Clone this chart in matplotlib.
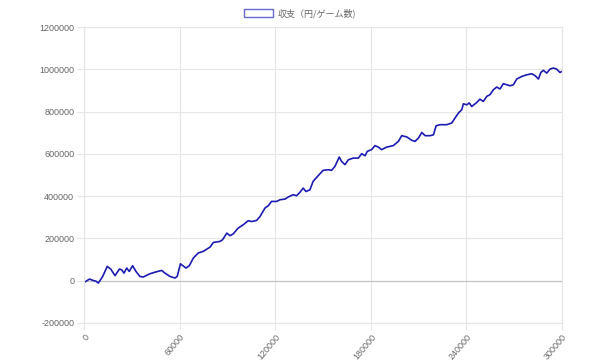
import matplotlib
matplotlib.use("Agg")
import matplotlib.pyplot as plt
from matplotlib.patches import Patch

plt.rcParams['font.family'] = ['Liberation Sans', 'Noto Sans CJK JP', 'DejaVu Sans']

# games played vs. cumulative balance (yen)
games = [0, 1200, 3500, 5600, 7500, 9000, 11700, 14600, 16800, 18400, 19500,
         22200, 23600, 25100, 26800, 28400, 30500, 32600, 35100, 37200, 41400,
         45600, 48700, 50800, 54000, 57100, 58500, 60500, 64000, 66100, 68600,
         71700, 74900, 79100, 81200, 85400, 87000, 89600, 91700, 93700, 96800,
         100000, 103100, 105200, 108300, 110500, 113600, 115700, 117700, 120900,
         123000, 126100, 128200, 131300, 133400, 135500, 137600, 139300, 141800,
         143800, 147000, 150100, 153300, 155400, 157500, 160200, 161700, 163800,
         165900, 169000, 172200, 174300, 176400, 177800, 180500, 182600, 184700,
         186800, 190000, 194100, 197300, 199400, 202600, 205700, 207800, 209900,
         212000, 214100, 217200, 219300, 221000, 223500, 227700, 230800, 232900,
         235000, 237100, 238100, 240200, 241800, 243300, 246500, 248500, 250600,
         252800, 254800, 256900, 259000, 261100, 263200, 265300, 267400, 269500,
         271600, 274700, 277900, 281000, 283100, 285200, 286700, 288300, 290400,
         292500, 294600, 296600, 298700, 300000]
balance = [-8000, -3000, 8000, 1500, -2000, -11000, 20000, 68000, 55000, 36000,
           24000, 55000, 52000, 36000, 60000, 44000, 71000, 44000, 20000, 17500,
           33000, 42500, 48700, 36000, 20000, 12700, 20000, 80000, 60000, 71000,
           107000, 131000, 139000, 159000, 181000, 186000, 194000, 225000, 213000,
           222000, 249000, 265000, 284000, 280000, 285000, 304000, 344000, 355000,
           375000, 375000, 383000, 386000, 396000, 407000, 402000, 418000, 438000,
           422000, 430000, 470000, 497000, 522000, 525000, 522000, 541000, 585000,
           564000, 549000, 572000, 580000, 580000, 601000, 591000, 612000, 620000,
           639000, 632000, 620000, 632000, 639000, 659000, 686000, 680000, 664000,
           659000, 675000, 701000, 686000, 686000, 690000, 733000, 738000, 738000,
           746000, 770000, 793000, 809000, 837000, 832000, 841000, 824000, 843000,
           859000, 848000, 872000, 880000, 903000, 916000, 907000, 932000, 927000,
           922000, 927000, 954000, 966000, 974000, 979000, 970000, 954000, 985000,
           995000, 982000, 1001000, 1006000, 1001000, 985000, 990000]

x_ticks = [0, 60000, 120000, 180000, 240000, 300000]
y_ticks = [-200000, 0, 200000, 400000, 600000, 800000, 1000000, 1200000]
label = "収支（円/ゲーム数)"

line_color = "#1c1cb2"
grid_color = "#e5e5e5"
text_color = "#666666"

fig = plt.figure(figsize=(6, 3.63), dpi=100)
ax = fig.add_axes([0.14, 0.1102, 0.7967, 0.8154])

ax.plot(games, balance, color=line_color, linewidth=1.2)

ax.set_xlim(0, 300000)
ax.set_ylim(-200000, 1200000)
ax.set_xticks(x_ticks)
ax.set_yticks(y_ticks)
ax.set_xticklabels([str(v) for v in x_ticks], rotation=50, ha="right",
                   va="top", rotation_mode="anchor")
ax.set_yticklabels([str(v) for v in y_ticks])
ax.tick_params(axis="both", colors=grid_color, labelcolor=text_color,
               labelsize=6.5, length=5, width=0.8, pad=2)

ax.grid(True, color=grid_color, linewidth=0.8)
ax.axhline(0, color="#c4c4c4", linewidth=0.9, zorder=1)
for s in ax.spines.values():
    s.set_color(grid_color)
    s.set_linewidth(0.8)
ax.set_axisbelow(True)

handle = Patch(facecolor="white", edgecolor="#6a6acc", linewidth=1.0, label=label)
fig.legend(handles=[handle], loc="upper center", bbox_to_anchor=(0.5, 1.0),
           frameon=False, handlelength=3.2, handleheight=0.9,
           handletextpad=0.5, labelcolor=text_color,
           prop={"family": ["Noto Sans CJK JP", "DejaVu Sans"], "size": 6.5})

fig.savefig("out.png", dpi=100)
